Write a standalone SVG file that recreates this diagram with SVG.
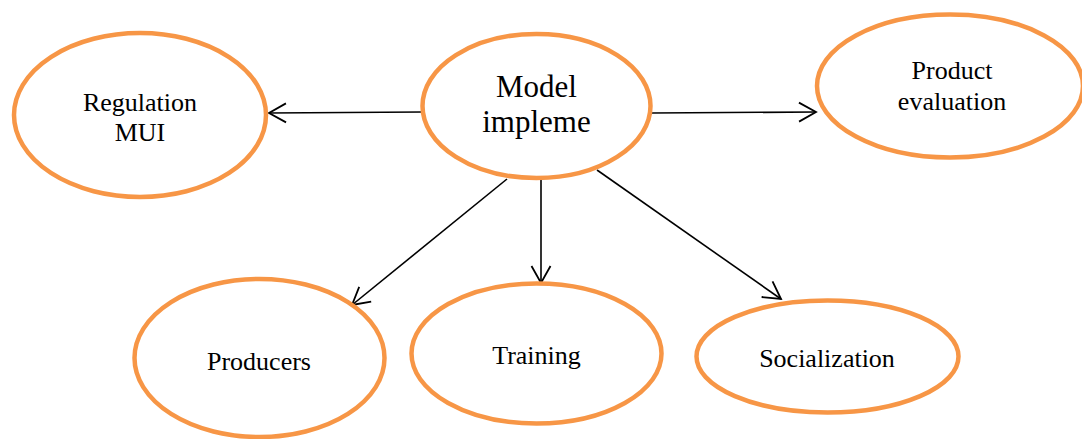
<svg xmlns="http://www.w3.org/2000/svg" width="1082" height="439" viewBox="0 0 1082 439">
<style>
.node{fill:#ffffff;stroke:#F79646;stroke-width:4.5}
.lbl{font-family:"Liberation Serif","Times New Roman",serif;font-size:26px;fill:#000;text-anchor:middle}
.big{font-size:31px}
.edge{stroke:#000;stroke-width:1.6;fill:none;marker-end:url(#arr)}
</style>
<defs>
<marker id="arr" markerUnits="userSpaceOnUse" markerWidth="24" markerHeight="24" viewBox="-20 -12 24 24" refX="0" refY="0" orient="auto">
<path d="M-17,-9.5 L0,0 L-17,9.5" fill="none" stroke="#000" stroke-width="1.8"/>
</marker>
</defs>
<rect width="1082" height="439" fill="#ffffff"/>
<g id="connectors">
<line class="edge" x1="422" y1="112" x2="269" y2="113"/>
<line class="edge" x1="652" y1="113" x2="816" y2="112"/>
<line class="edge" x1="507" y1="179" x2="352" y2="305"/>
<line class="edge" x1="541" y1="180" x2="541" y2="283"/>
<line class="edge" x1="597" y1="170" x2="781" y2="299"/>
</g>
<g id="regulation">
<ellipse class="node" cx="140" cy="115" rx="126" ry="82"/>
<text class="lbl" x="140" y="111">Regulation</text>
<text class="lbl" x="140" y="141">MUI</text>
</g>
<g id="model">
<ellipse class="node" cx="536.5" cy="106" rx="114" ry="72"/>
<text class="lbl big" x="536.5" y="97">Model</text>
<text class="lbl big" x="536.5" y="132">impleme</text>
</g>
<g id="product">
<ellipse class="node" cx="950" cy="86" rx="133" ry="71.5"/>
<text class="lbl" x="952" y="79">Product</text>
<text class="lbl" x="952" y="110">evaluation</text>
</g>
<g id="producers">
<ellipse class="node" cx="259.5" cy="358" rx="125" ry="79"/>
<text class="lbl" x="259" y="370">Producers</text>
</g>
<g id="training">
<ellipse class="node" cx="536.5" cy="353.5" rx="125" ry="70"/>
<text class="lbl" x="536.5" y="364">Training</text>
</g>
<g id="socialization">
<ellipse class="node" cx="827.5" cy="356.5" rx="131" ry="56"/>
<text class="lbl" x="827" y="367">Socialization</text>
</g>
</svg>
